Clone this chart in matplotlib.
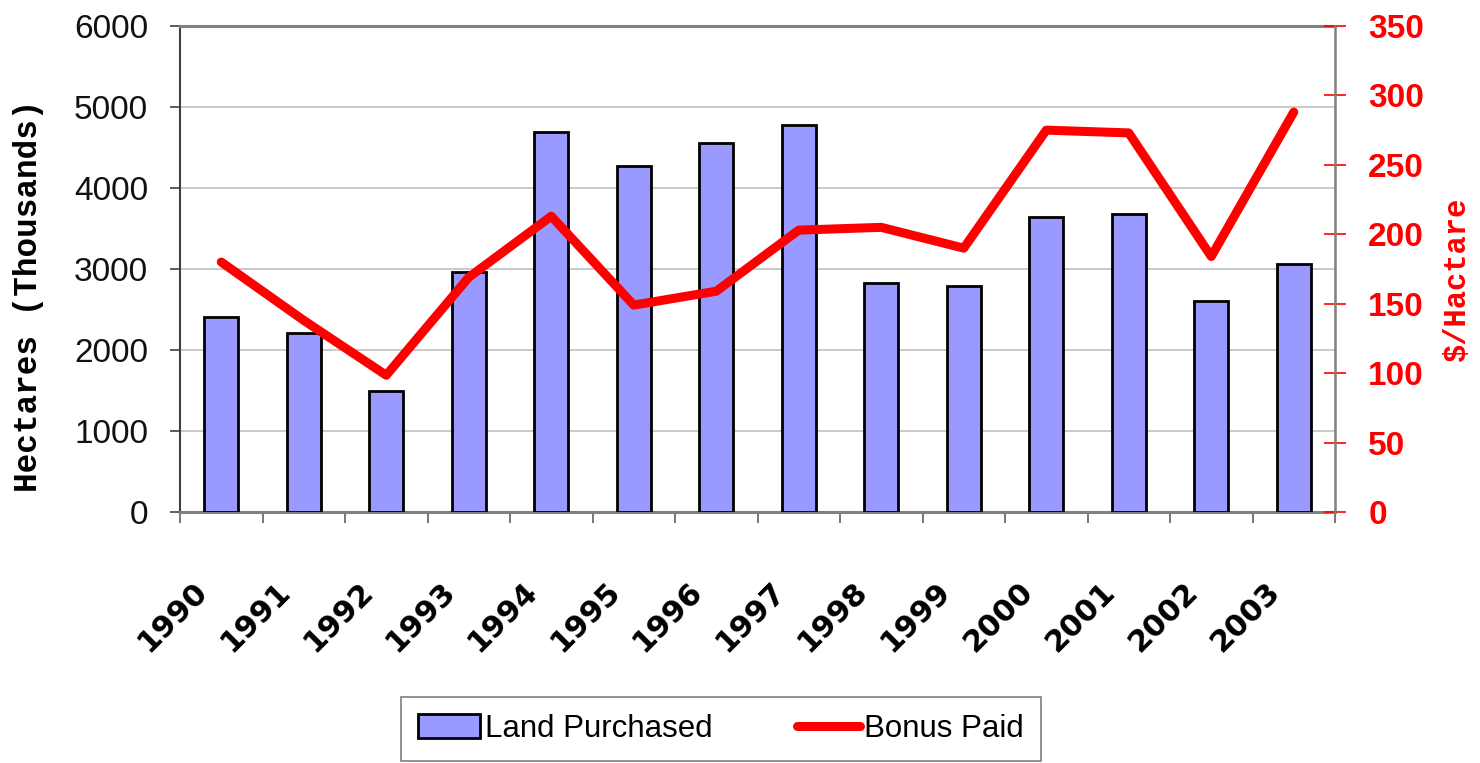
import matplotlib
matplotlib.use("Agg")
import matplotlib.pyplot as plt
import matplotlib.transforms as mtransforms
import numpy as np

# Data.
years = ["1990", "1991", "1992", "1993", "1994", "1995", "1996",
         "1997", "1998", "1999", "2000", "2001", "2002", "2003"]
land_purchased = [2410, 2210, 1500, 2965, 4695, 4275, 4550,
                  4780, 2830, 2790, 3640, 3675, 2600, 3060]
bonus_paid = [180, 138, 98.5, 169, 213, 149, 159,
              203, 205, 190, 275, 273, 184, 288]

tick_font = ["Liberation Sans Narrow", "Liberation Sans", "DejaVu Sans"]
mono_font = ["Liberation Mono", "DejaVu Sans Mono"]

fig = plt.figure(figsize=(14.8, 7.63), dpi=100)
ax = fig.add_axes([180 / 1480, 1 - 512 / 763, 1155 / 1480, 486 / 763])

x = np.arange(len(years))
bars = ax.bar(x, land_purchased, width=0.41, color="#9999ff",
              edgecolor="black", linewidth=2.0, zorder=3, label="Land Purchased")

ax.set_xlim(-0.5, len(years) - 0.5)
ax.set_ylim(0, 6000)
ax.set_yticks(range(0, 6001, 1000))
ax.yaxis.grid(True, color="#c0c0c0", linewidth=1.2, zorder=0)
ax.set_axisbelow(True)

# Left axis ticks and labels.
ax.tick_params(axis="y", direction="out", length=7, width=1.2, color="#404040",
               pad=16, labelsize=24, labelcolor="#111111")
for lab in ax.get_yticklabels():
    lab.set_family(tick_font)

# Category ticks at the boundaries, labels at the centers.
ax.set_xticks(np.arange(-0.5, len(years), 1.0), minor=True)
ax.set_xticks(x)
ax.set_xticklabels(years, rotation=45, ha="right", va="center",
                   rotation_mode="anchor", fontsize=22, fontweight="bold",
                   family="DejaVu Sans")
ax.tick_params(axis="x", which="major", length=0, pad=54)
ax.tick_params(axis="x", which="minor", direction="out", length=8,
               width=1.2, color="#606060")
shift = mtransforms.ScaledTranslation(-18 / 100, 0, fig.dpi_scale_trans)
for lab in ax.get_xticklabels():
    lab.set_transform(lab.get_transform() + shift)

for side in ["top", "bottom"]:
    ax.spines[side].set_color("#808080")
    ax.spines[side].set_linewidth(2.2)
ax.spines["left"].set_color("#404040")
ax.spines["left"].set_linewidth(1.5)
ax.spines["right"].set_visible(False)

ax.set_ylabel("Hectares (Thousands)", family=mono_font, fontweight="bold",
              fontsize=23.5, va="center")
ax.yaxis.set_label_coords((29 - 180) / 1155, 0.444)

# Right axis for the bonus line.
ax2 = ax.twinx()
line, = ax2.plot(x, bonus_paid, color="red", linewidth=6.5,
                 solid_capstyle="round", solid_joinstyle="round",
                 label="Bonus Paid", zorder=4)
ax2.set_ylim(0, 350)
ax2.set_yticks(range(0, 351, 50))
ax2.tick_params(axis="y", direction="inout", length=16, width=1.2,
                color="red", labelcolor="red", labelsize=24, pad=16)
for lab in ax2.get_yticklabels():
    lab.set_family(tick_font)
    lab.set_fontweight("bold")
for side in ["top", "bottom", "left"]:
    ax2.spines[side].set_visible(False)
ax2.spines["right"].set_color("#808080")
ax2.spines["right"].set_linewidth(1.8)
ax2.set_ylabel("$/Hactare", family=mono_font, fontweight="bold", fontsize=22,
               color="red", rotation=90, va="center")
ax2.yaxis.set_label_coords((1457 - 180) / 1155, 0.479)

leg = fig.legend(handles=[bars, line], labels=["Land Purchased", "Bonus Paid"],
                 loc="center", bbox_to_anchor=(721 / 1480, 1 - 729 / 763),
                 ncol=2, frameon=True, fancybox=False, handlelength=2.0,
                 handleheight=0.8, handletextpad=0.15, columnspacing=2.7,
                 borderpad=0.55, prop={"family": tick_font, "size": 22.5})
leg.get_frame().set_edgecolor("#606060")
leg.get_frame().set_linewidth(1.2)

fig.savefig("out.png", dpi=100)
